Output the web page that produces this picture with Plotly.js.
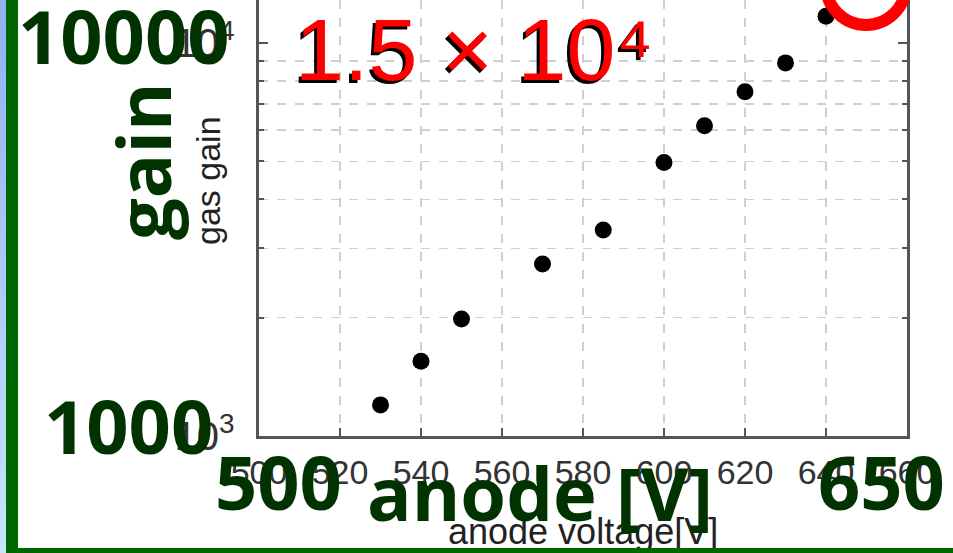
<!DOCTYPE html>
<html>
<head>
<meta charset="utf-8">
<script src="https://cdn.plot.ly/plotly-3.0.1.min.js"></script>
<style>
  html, body { margin: 0; padding: 0; background: #fff; }
  #wrap { position: relative; width: 953px; height: 553px; overflow: hidden; }
  #chart { position: absolute; left: 0; top: 0; width: 953px; height: 553px; }
  .deco { position: absolute; z-index: 10; }
  #blue { left: 0; top: 0; width: 6px; height: 553px; background: linear-gradient(#90b0f4, #c8e4ff); }
  #gleft { left: 6px; top: 0; width: 12px; height: 553px; background: #006600; }
  #gbottom { left: 6px; top: 548px; width: 947px; height: 5px; background: #006600; }
</style>
</head>
<body>
<div id="wrap">
  <div id="chart"></div>
  <div class="deco" id="blue"></div>
  <div class="deco" id="gleft"></div>
  <div class="deco" id="gbottom"></div>
</div>
<script>
// data
const anodeVoltage = [530, 540, 550, 570, 585, 600, 610, 620, 630, 640];
const gasGain = [1200, 1550, 1985, 2740, 3345, 4965, 6160, 7515, 8900, 11700];

// labels
const xTitle = "anode voltage[V]";
const yTitle = "gas gain";
const bigYTop = "10000";
const bigYBottom = "1000";
const bigXLeft = "500";
const bigXRight = "650";
const bigXTitle = "anode [V]";
const bigYTitle = "gain";
const highlight = "1.5 × 10⁴";

// layout geometry (pixels)
const L = 259, R = 46, T = 0, B = 117;
const W = 953, H = 553;
const pw = W - L - R, ph = H - T - B;
const px = x => (x - L) / pw;
const py = y => (H - B - y) / ph;

const green = "#003300";
const bigFont = {family: "Open Sans", size: 74, color: green, weight: 700};

function note(text, x, y, font, extra) {
  return Object.assign({
    text: text, x: px(x), y: py(y), xref: "paper", yref: "paper",
    xanchor: "center", yanchor: "middle", showarrow: false, font: font
  }, extra || {});
}

const trace = {
  x: anodeVoltage, y: gasGain, type: "scatter", mode: "markers",
  marker: {color: "#000", size: 17}, hoverinfo: "skip"
};

const layout = {
  width: W, height: H,
  margin: {l: L, r: R, t: T, b: B, pad: 0},
  paper_bgcolor: "#fff", plot_bgcolor: "#fff",
  showlegend: false,
  xaxis: {
    range: [500, 660], tick0: 500, dtick: 20, autorange: false,
    showline: true, linecolor: "#555", linewidth: 3, mirror: false,
    ticks: "inside", ticklen: 8, tickwidth: 2, tickcolor: "#555",
    showgrid: true, gridcolor: "#cfcfcf", griddash: "dash", gridwidth: 1.5,
    zeroline: false,
    tickfont: {family: "Liberation Sans", size: 34, color: "#333"},
    ticklabelstandoff: 4, automargin: false
  },
  yaxis: {
    type: "log", range: [3, 4.1094], autorange: false, dtick: 1,
    exponentformat: "power",
    showline: true, linecolor: "#555", linewidth: 3, mirror: "ticks",
    ticks: "inside", ticklen: 9, tickwidth: 2, tickcolor: "#555",
    showgrid: false, zeroline: false,
    minor: {dtick: "D1", ticks: "inside", ticklen: 5, tickwidth: 2, tickcolor: "#555",
            showgrid: true, gridcolor: "#cfcfcf", griddash: "dash", gridwidth: 1.5},
    tickfont: {family: "Liberation Sans", size: 32, color: "#333"},
    ticklabelstandoff: 15, automargin: false
  },
  shapes: [{
    type: "circle", xref: "paper", yref: "paper",
    xsizemode: "pixel", ysizemode: "pixel",
    xanchor: px(866), yanchor: py(-15),
    x0: -40, x1: 40, y0: -40, y1: 40,
    line: {color: "#ff0000", width: 12}, layer: "above"
  }],
  annotations: [
    note(yTitle, 208, 181, {family: "Liberation Sans", size: 34, color: "#222"}, {textangle: -90}),
    note(xTitle, 583, 531, {family: "Liberation Sans", size: 36, color: "#222"}),
    note(highlight, 293, 50, {family: "Liberation Sans", size: 88, color: "#000"},
         {xanchor: "left", xshift: -3, yshift: -3}),
    note(highlight, 293, 50, {family: "Liberation Sans", size: 88, color: "#ff0000"},
         {xanchor: "left"}),
    note(bigYTop, 124, 36, bigFont),
    note(bigYBottom, 128, 425, bigFont),
    note(bigXLeft, 278, 482, bigFont),
    note(bigXRight, 881, 482, bigFont),
    note(bigXTitle, 540, 492, bigFont),
    note(bigYTitle, 143, 161, bigFont, {textangle: -90})
  ]
};

Plotly.newPlot("chart", [trace], layout, {displayModeBar: false, staticPlot: true});
</script>
</body>
</html>
